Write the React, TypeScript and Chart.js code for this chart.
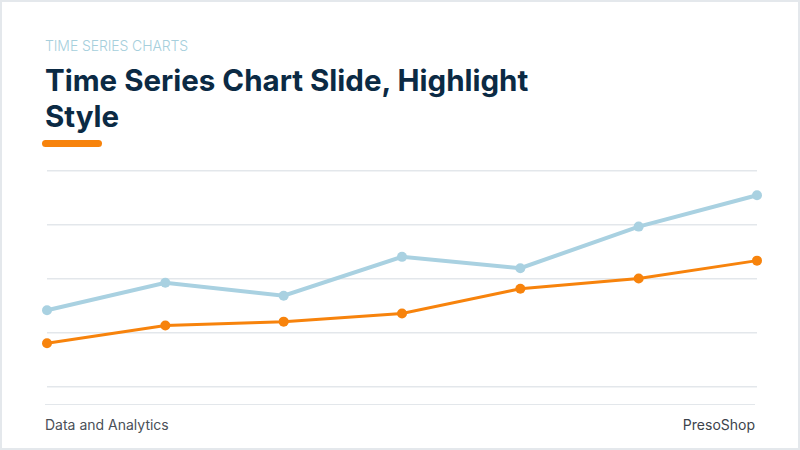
import React, { useEffect, useRef } from 'react';
import { Chart, registerables } from 'chart.js';

Chart.register(...registerables);

// Seven periods along the x axis (no labels are shown on the slide)
const periods = ['P1', 'P2', 'P3', 'P4', 'P5', 'P6', 'P7'];
// Highlighted series (orange) and context series (light blue)
const highlightValues = [8.1, 11.4, 12.1, 13.6, 18.2, 20.1, 23.4];
const contextValues = [14.2, 19.3, 16.9, 24.1, 22.0, 29.7, 35.5];
// Value axis range
const yMin = 0;
const yMax = 40;
const yStep = 10;

const BLUE = '#a9d1e1';
const ORANGE = '#f7830c';
const GRID = '#e3e7eb';
const FONT = 'Inter, "Noto Sans", sans-serif';

const TimeSeriesChart: React.FC = () => {
  const canvasRef = useRef<HTMLCanvasElement>(null);

  useEffect(() => {
    const ctx = canvasRef.current?.getContext('2d');
    if (!ctx) return;

    const chart = new Chart(ctx, {
      type: 'line',
      data: {
        labels: periods,
        datasets: [
          {
            label: 'Highlight',
            data: highlightValues,
            borderColor: ORANGE,
            backgroundColor: ORANGE,
            borderWidth: 3,
            pointRadius: 5,
            pointBorderWidth: 0,
            pointBackgroundColor: ORANGE,
            tension: 0,
            clip: false,
          },
          {
            label: 'Context',
            data: contextValues,
            borderColor: BLUE,
            backgroundColor: BLUE,
            borderWidth: 4,
            pointRadius: 5,
            pointBorderWidth: 0,
            pointBackgroundColor: BLUE,
            tension: 0,
            clip: false,
          },
        ],
      },
      options: {
        animation: false,
        responsive: false,
        maintainAspectRatio: false,
        layout: { padding: { left: 45, right: 45, top: 9, bottom: 10 } },
        plugins: {
          legend: { display: false },
          tooltip: { enabled: false },
        },
        scales: {
          x: { display: false },
          y: {
            min: yMin,
            max: yMax,
            ticks: { display: false, stepSize: yStep },
            border: { display: false },
            grid: { color: GRID, lineWidth: 1.5, drawTicks: false },
          },
        },
      },
    });

    return () => chart.destroy();
  }, []);

  return <canvas ref={canvasRef} width={800} height={235} style={{ position: 'absolute', left: 0, top: 160, width: 800, height: 235 }} />;
};

export default function App() {
  return (
    <div
      style={{
        position: 'fixed',
        left: 0,
        top: 0,
        width: 800,
        height: 450,
        boxSizing: 'border-box',
        border: '2px solid #e4e8ec',
        background: '#ffffff',
        fontFamily: FONT,
        overflow: 'hidden',
      }}
    >
      <div style={{ position: 'absolute', left: 43, top: 37, fontSize: 14, lineHeight: '14px', fontWeight: 300, color: '#a6cfdc', letterSpacing: -0.1 }}>
        TIME SERIES CHARTS
      </div>
      <div style={{ position: 'absolute', left: 43, top: 60, fontSize: 29.5, lineHeight: '36px', fontWeight: 700, color: '#0b2a44', whiteSpace: 'nowrap' }}>
        Time Series Chart Slide, Highlight
        <br />
        Style
      </div>
      <div style={{ position: 'absolute', left: 40, top: 138, width: 60, height: 7, borderRadius: 3.5, background: ORANGE }} />
      <TimeSeriesChart />
      <div style={{ position: 'absolute', left: 43, right: 43, top: 402, height: 0, borderTop: `1.5px solid ${GRID}` }} />
      <div style={{ position: 'absolute', left: 43, top: 416, fontSize: 14, lineHeight: '14px', color: '#4a5058' }}>Data and Analytics</div>
      <div style={{ position: 'absolute', right: 43, top: 416, fontSize: 14, lineHeight: '14px', color: '#3c434b' }}>PresoShop</div>
    </div>
  );
}
